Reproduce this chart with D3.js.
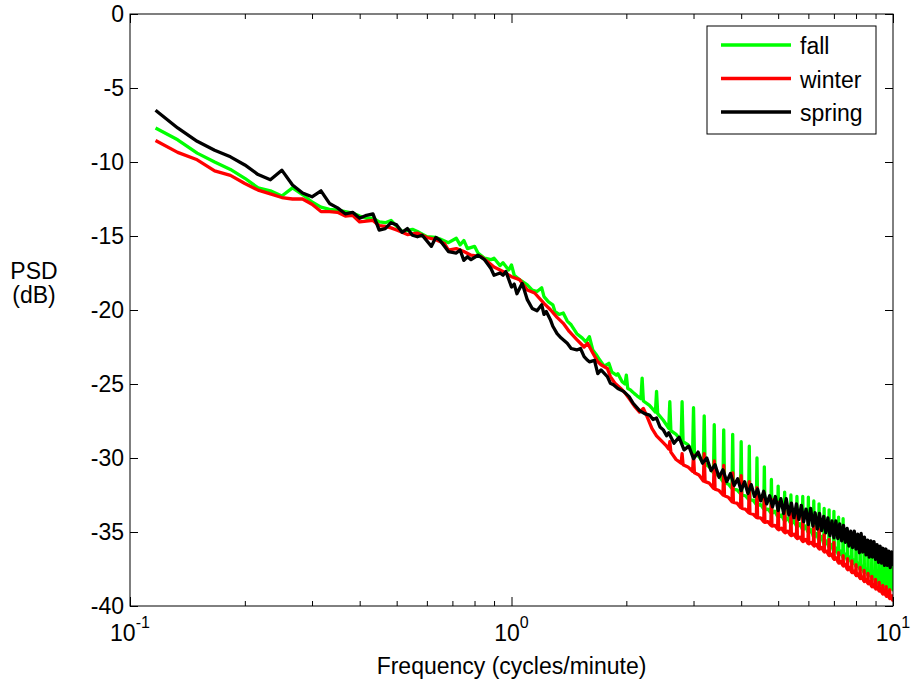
<!DOCTYPE html>
<html>
<head>
<meta charset="utf-8">
<script src="https://d3js.org/d3.v7.min.js"></script>
<style>
    body { margin: 0; background: #fff; }
    svg text { font-family: "Liberation Sans", Arial, Helvetica, sans-serif; }
</style>
</head>
<body>
<script>
//PSD readings, [frequency in cycles/hour, PSD in dB]  (cycles/minute = cycles/hour / 60)
var fall = [
    [7,-7.7],[8,-8.5],[9,-9.4],[10,-10.0],[11,-10.5],[12,-11.1],[13,-11.75],[14,-11.95],[15,-12.3],[16,-11.75],
    [17,-12.2],[18,-12.7],[19,-13.05],[20,-13.2],[21,-13.25],[22,-13.35],[23,-13.45],[24,-13.65],[25,-13.8],[26,-13.8],
    [27,-14.05],[28,-14.1],[29,-13.95],[30,-14.35],[31,-14.7],[33,-14.55],[34,-14.7],[36,-15.05],[38,-15.1],[39,-15.2],
    [41,-15.45],[43,-15.15],[44,-15.6],[45,-15.3],[46,-15.85],[48,-15.7],[49,-16.15],[51,-16.5],[53,-16.6],[54,-16.5],
    [56,-17.0],[57,-16.8],[59,-17.3],[60,-16.95],[61,-17.65],[63,-17.95],[66,-18.3],[68,-18.65],[70,-18.75],[72,-18.5],
    [73,-19.1],[75,-19.45],[77,-19.65],[78,-20.1],[80,-20.3],[82,-20.2],[84,-20.75],[86,-21.0],[89,-21.6],[92,-21.9],
    [94,-22.15],[96,-21.8],[98,-22.7],[100,-23.0],[102,-23.35],[105,-23.8],[108,-23.6],[110,-24.2],[113,-24.4],[114,-24.3],
    [117,-24.85],[119,-25.0],[120,-24.4],[121,-25.3],[123,-25.4],[126,-25.65],[128,-25.8],
    [131,-26.0],[132,-24.6],[133,-26.15],[138,-26.45],
    [143,-26.9],[144,-25.5],[145,-27.0],[150,-27.45],
    [155,-28.0],[156,-26.2],[157,-28.15],[162,-28.4],
    [167,-28.8],[168,-26.2],[169,-28.9],[174,-29.1],
    [179,-29.6],[180,-26.6],[181,-29.7],[186,-29.9],
    [191,-30.35],[192,-27.15],[193,-30.4],[198,-30.6],
    [203,-31.0],[204,-27.75],[205,-31.1],[210,-31.2],
    [215,-31.6],[216,-28.1],[217,-31.7],[222,-31.75],
    [227,-32.05],[228,-28.4],[229,-32.1],[234,-32.15],
    [239,-32.4],[240,-28.9],[241,-32.5],[246,-32.55],
    [251,-32.8],[252,-29.2],[253,-32.85],[258,-32.85],
    [263,-33.15],[264,-30.0],[265,-33.2],[270,-33.15],
    [275,-33.45],[276,-30.6],[277,-33.5],[282,-33.45],
    [287,-33.7],[288,-31.45],[289,-33.75],[294,-33.6],
    [299,-33.95],[300,-31.9],[301,-34.0],[306,-33.85],
    [311,-34.2],[312,-32.3],[313,-34.25],[318,-34.05],
    [323,-34.4],[324,-32.5],[325,-34.45],[330,-34.25],
    [335,-34.6],[336,-32.6],[337,-34.65],[342,-34.45],
    [347,-34.8],[348,-32.6],[349,-34.85],[354,-34.6],
    [359,-35.0],[360,-32.65],[361,-35.05],[366,-34.85],
    [371,-35.3],[372,-32.9],[373,-35.35],[378,-35.1],
    [383,-35.5],[384,-33.1],[385,-35.55],[390,-35.3],
    [395,-35.8],[396,-33.4],[397,-35.85],[402,-35.6],
    [407,-36.0],[408,-33.5],[409,-36.05],[414,-35.85],
    [419,-36.3],[420,-33.6],[421,-36.35],[426,-36.1],
    [431,-36.5],[432,-34.0],[433,-36.55],[438,-36.3],
    [443,-36.7],[444,-34.1],[445,-36.75],[450,-36.5],
    [455,-36.9],[456,-35.2],[457,-36.95],[462,-36.7],
    [467,-37.1],[468,-35.4],[469,-37.15],[474,-36.9],
    [479,-37.3],[480,-35.6],[481,-37.35],[486,-37.1],
    [491,-37.5],[492,-35.7],[493,-37.55],[498,-37.3],
    [503,-37.7],[504,-35.9],[505,-37.75],[510,-37.5],
    [515,-37.9],[516,-36.0],[517,-37.95],[522,-37.7],
    [527,-38.1],[528,-36.2],[529,-38.15],[534,-37.9],
    [539,-38.3],[540,-36.4],[541,-38.35],[546,-38.1],
    [551,-38.5],[552,-36.5],[553,-38.55],[558,-38.3],
    [563,-38.6],[564,-36.7],[565,-38.65],[570,-38.4],
    [575,-38.7],[576,-36.9],[577,-38.75],[582,-38.5],
    [587,-38.8],[588,-37.0],[589,-38.85],[594,-38.6],
    [599,-38.9],[600,-37.3]
];

var winter = [
    [7,-8.55],[8,-9.35],[9,-9.85],[10,-10.6],[11,-10.9],[12,-11.45],[13,-11.9],[14,-12.15],[15,-12.4],[16,-12.5],
    [17,-12.5],[18,-12.85],[19,-13.35],[20,-13.35],[21,-13.4],[22,-13.65],[23,-13.6],[24,-14.05],[25,-14.0],[26,-13.95],
    [27,-14.3],[28,-14.35],[29,-14.45],[30,-14.6],[32,-14.9],[34,-14.8],[36,-15.1],[38,-15.25],[40,-15.5],[41,-15.95],
    [43,-15.85],[45,-16.05],[47,-16.3],[50,-16.4],[52,-16.75],[54,-17.1],[57,-17.4],[60,-17.75],[63,-17.95],[66,-18.65],
    [69,-18.85],[73,-19.55],[76,-20.0],[79,-20.5],[82,-20.9],[85,-21.45],[89,-22.0],[93,-22.5],[95,-22.25],[98,-22.9],
    [101,-23.5],[103,-23.7],[107,-23.95],[109,-24.5],[112,-24.95],[116,-25.3],[119,-25.6],[123,-26.1],[126,-26.5],[130,-26.9],
    [133,-26.65],[136,-27.2],[140,-28.0],[144,-28.5],[149,-28.9],[153,-29.2],
    [155,-29.4],[156,-28.9],[157,-29.6],[162,-30.1],
    [167,-30.35],[168,-29.7],[169,-30.45],[174,-30.6],
    [179,-30.9],[180,-29.8],[181,-31.0],[186,-31.15],
    [191,-31.55],[192,-29.7],[193,-31.6],[198,-31.7],
    [203,-32.05],[204,-30.2],[205,-32.1],[210,-32.2],
    [215,-32.5],[216,-30.5],[217,-32.55],[222,-32.65],
    [227,-32.95],[228,-31.0],[229,-33.0],[234,-33.05],
    [239,-33.35],[240,-31.2],[241,-33.4],[246,-33.45],
    [251,-33.7],[252,-31.6],[253,-33.75],[258,-33.8],
    [263,-34.0],[264,-32.0],[265,-34.05],[270,-34.05],
    [275,-34.3],[276,-32.4],[277,-34.35],[282,-34.3],
    [287,-34.55],[288,-32.8],[289,-34.6],[294,-34.55],
    [299,-34.8],[300,-33.0],[301,-34.85],[306,-34.75],
    [311,-35.0],[312,-33.2],[313,-35.05],[318,-34.95],
    [323,-35.2],[324,-33.6],[325,-35.25],[330,-35.15],
    [335,-35.4],[336,-33.8],[337,-35.45],[342,-35.35],
    [347,-35.6],[348,-34.0],[349,-35.65],[354,-35.5],
    [359,-35.75],[360,-34.3],[361,-35.8],[366,-35.7],
    [371,-35.9],[372,-34.6],[373,-35.95],[378,-35.85],
    [383,-36.1],[384,-34.8],[385,-36.15],[390,-36.05],
    [395,-36.3],[396,-35.2],[397,-36.35],[402,-36.3],
    [407,-36.55],[408,-35.5],[409,-36.6],[414,-36.5],
    [419,-36.8],[420,-35.7],[421,-36.85],[426,-36.75],
    [431,-37.05],[432,-36.4],[433,-37.1],[438,-37.0],
    [443,-37.25],[444,-36.6],[445,-37.3],[450,-37.2],
    [455,-37.5],[456,-36.8],[457,-37.55],[462,-37.4],
    [467,-37.7],[468,-36.95],[469,-37.75],[474,-37.65],
    [479,-37.9],[480,-37.2],[481,-37.95],[486,-37.85],
    [491,-38.1],[492,-37.4],[493,-38.15],[498,-38.05],
    [503,-38.3],[504,-37.6],[505,-38.35],[510,-38.25],
    [515,-38.45],[516,-37.8],[517,-38.5],[522,-38.4],
    [527,-38.65],[528,-38.0],[529,-38.7],[534,-38.6],
    [539,-38.8],[540,-38.2],[541,-38.85],[546,-38.75],
    [551,-38.95],[552,-38.4],[553,-39.0],[558,-38.95],
    [563,-39.15],[564,-38.6],[565,-39.2],[570,-39.1],
    [575,-39.3],[576,-38.7],[577,-39.35],[582,-39.3],
    [587,-39.45],[588,-38.9],[589,-39.5],[594,-39.45],
    [599,-39.6],[600,-39.2]
];

var spring = [
    [7,-6.5],[8,-7.7],[9,-8.6],[10,-9.2],[11,-9.65],[12,-10.2],[13,-10.85],[14,-11.2],[15,-10.55],[16,-11.55],
    [17,-12.1],[18,-12.35],[19,-11.95],[20,-12.8],[21,-13.1],[22,-13.5],[23,-13.4],[24,-13.8],[25,-13.6],[26,-13.5],
    [27,-14.6],[28,-14.5],[29,-14.1],[30,-14.25],[31,-14.75],[32,-14.5],[33,-14.95],[34,-15.05],[35,-14.95],[37,-15.7],
    [38,-15.1],[39,-15.3],[41,-16.05],[43,-16.15],[44,-15.95],[45,-16.65],[46,-16.4],[47,-16.6],[49,-16.3],[51,-16.6],
    [53,-17.2],[54,-17.65],[56,-17.5],[57,-17.65],[58,-17.4],[60,-18.45],[61,-18.25],[62,-18.9],[64,-18.2],[66,-19.3],
    [68,-19.9],[70,-20.05],[72,-19.65],[73,-20.3],[74,-20.1],[76,-20.7],[77,-21.1],[79,-21.6],[81,-21.9],[84,-22.25],
    [86,-22.6],[89,-22.7],[91,-22.6],[93,-23.15],[95,-23.4],[96,-23.5],[99,-23.4],[101,-24.3],[103,-24.05],[107,-24.5],
    [109,-24.95],[111,-25.05],[114,-25.3],[118,-25.5],[122,-25.85],[125,-26.3],[130,-26.8],[134,-27.0],[138,-27.1],[141,-27.4],
    [144,-27.3],[147,-27.9],[150,-28.1],[153,-28.5],
    [155,-28.3],[160,-29.0],[165,-28.6],[170,-29.45],[175,-29.2],[180,-30.05],[185,-29.6],[190,-30.35],[195,-30.0],[200,-30.85],
    [205,-30.45],[210,-31.3],[215,-30.8],[220,-31.6],[225,-31.05],[230,-31.85],[235,-31.4],[240,-32.2],[245,-31.6],[250,-32.4],
    [255,-31.8],[260,-32.6],[265,-32.1],[270,-32.9],[275,-32.25],[280,-33.1],[285,-32.55],[290,-33.3],[295,-32.6],[300,-33.55],
    [305,-32.75],[310,-33.75],[315,-32.75],[320,-33.85],[325,-33.05],[330,-34.05],[335,-33.1],[340,-34.15],[345,-33.2],[350,-34.3],
    [355,-33.45],[360,-34.5],[365,-33.4],[370,-34.6],[375,-33.7],[380,-34.8],[385,-33.75],[390,-34.9],[395,-33.95],[400,-35.05],
    [405,-34.05],[410,-35.25],[415,-34.25],[420,-35.4],[425,-34.25],[430,-35.45],[435,-34.45],[440,-35.6],[445,-34.55],[450,-35.7],
    [455,-34.75],[460,-35.95],[465,-34.95],[470,-36.05],[475,-34.95],[480,-36.15],[485,-35.15],[490,-36.4],[495,-35.1],[500,-36.35],
    [505,-35.35],[510,-36.55],[515,-35.55],[520,-36.7],[525,-35.6],[530,-36.7],[535,-35.65],[540,-36.85],[545,-35.85],[550,-37.05],
    [555,-35.95],[560,-37.1],[565,-36.1],[570,-37.25],[575,-36.15],[580,-37.25],[585,-36.3],[590,-37.4],[595,-36.35],[600,-37.3]
];

//series names and colours, in plot order
var seriesNames = ['fall', 'winter', 'spring'];
var seriesColors = ['#00ff00', '#ff0000', '#000000'];

//axis ticks
var xMajorTicks = [0.1, 1, 10];
var xMinorTicks = [0.2, 0.3, 0.4, 0.5, 0.6, 0.7, 0.8, 0.9, 2, 3, 4, 5, 6, 7, 8, 9];
var yTicks = [-40, -35, -30, -25, -20, -15, -10, -5, 0];

window.onload = setChart;

function setChart(){

    var width = 911,
        height = 683;

    //plot frame
    var left = 130, right = 893, top = 14, bottom = 606;

    var svg = d3.select('body')
        .append('svg')
        .attr('width', width)
        .attr('height', height);

    var x = d3.scaleLog()
        .domain([0.1, 10])
        .range([left, right]);

    var y = d3.scaleLinear()
        .domain([-40, 0])
        .range([bottom, top]);

    svg.append('clipPath')
        .attr('id', 'plotClip')
        .append('rect')
        .attr('x', left)
        .attr('y', top)
        .attr('width', right - left)
        .attr('height', bottom - top);

    //lines
    var line = d3.line()
        .x(function(d){ return x(d[0] / 60); })
        .y(function(d){ return y(d[1]); });

    var allSeries = [fall, winter, spring];

    svg.append('g')
        .attr('clip-path', 'url(#plotClip)')
        .selectAll('.psd')
        .data(allSeries)
        .enter()
        .append('path')
        .attr('class', 'psd')
        .attr('d', line)
        .attr('fill', 'none')
        .attr('stroke', function(d, i){ return seriesColors[i]; })
        .attr('stroke-width', 3.3)
        .attr('stroke-linejoin', 'round');

    //axes with inward ticks, on all four sides
    function noDomain(g){ g.select('.domain').remove(); }

    svg.append('g')
        .attr('transform', 'translate(0,' + bottom + ')')
        .call(d3.axisBottom(x).tickValues(xMajorTicks).tickSizeInner(-9).tickSizeOuter(0).tickFormat(''))
        .call(noDomain);
    svg.append('g')
        .attr('transform', 'translate(0,' + bottom + ')')
        .call(d3.axisBottom(x).tickValues(xMinorTicks).tickSizeInner(-5).tickSizeOuter(0).tickFormat(''))
        .call(noDomain);
    svg.append('g')
        .attr('transform', 'translate(0,' + top + ')')
        .call(d3.axisTop(x).tickValues(xMajorTicks).tickSizeInner(-9).tickSizeOuter(0).tickFormat(''))
        .call(noDomain);
    svg.append('g')
        .attr('transform', 'translate(0,' + top + ')')
        .call(d3.axisTop(x).tickValues(xMinorTicks).tickSizeInner(-5).tickSizeOuter(0).tickFormat(''))
        .call(noDomain);

    var yAxis = svg.append('g')
        .attr('transform', 'translate(' + left + ',0)')
        .call(d3.axisLeft(y).tickValues(yTicks).tickSizeInner(-8).tickSizeOuter(0).tickPadding(6)
            .tickFormat(function(d){ return String(d); }))
        .call(noDomain);
    yAxis.selectAll('text')
        .attr('font-size', '23px')
        .attr('fill', '#000')
        .style('font-family', '"Liberation Sans", Arial, sans-serif');

    svg.append('g')
        .attr('transform', 'translate(' + right + ',0)')
        .call(d3.axisRight(y).tickValues(yTicks).tickSizeInner(-8).tickSizeOuter(0).tickFormat(''))
        .call(noDomain);

    //frame
    svg.append('rect')
        .attr('x', left)
        .attr('y', top)
        .attr('width', right - left)
        .attr('height', bottom - top)
        .attr('fill', 'none')
        .attr('stroke', '#000')
        .attr('stroke-width', 1);

    //x tick labels as powers of ten
    var xLabels = svg.selectAll('.xlab')
        .data(xMajorTicks)
        .enter()
        .append('text')
        .attr('class', 'xlab')
        .attr('x', function(d){ return x(d); })
        .attr('y', 641)
        .attr('text-anchor', 'middle')
        .attr('font-size', '23px');
    xLabels.append('tspan').text('10');
    xLabels.append('tspan')
        .attr('dy', -13)
        .attr('font-size', '16px')
        .text(function(d){ return String(Math.round(Math.log10(d))); });

    //axis titles
    svg.append('text')
        .attr('x', (left + right) / 2)
        .attr('y', 674)
        .attr('text-anchor', 'middle')
        .attr('font-size', '23px')
        .text('Frequency (cycles/minute)');

    svg.append('text')
        .attr('x', 34)
        .attr('y', 279)
        .attr('text-anchor', 'middle')
        .attr('font-size', '23px')
        .text('PSD');
    svg.append('text')
        .attr('x', 34)
        .attr('y', 303)
        .attr('text-anchor', 'middle')
        .attr('font-size', '23px')
        .text('(dB)');

    //legend
    var legend = svg.append('g');
    legend.append('rect')
        .attr('x', 707)
        .attr('y', 26)
        .attr('width', 169)
        .attr('height', 108)
        .attr('fill', '#fff')
        .attr('stroke', '#000')
        .attr('stroke-width', 1);

    var rows = legend.selectAll('.row')
        .data(seriesNames)
        .enter()
        .append('g')
        .attr('class', 'row')
        .attr('transform', function(d, i){ return 'translate(0,' + (45 + i * 33.5) + ')'; });
    rows.append('line')
        .attr('x1', 721)
        .attr('x2', 791)
        .attr('stroke', function(d, i){ return seriesColors[i]; })
        .attr('stroke-width', 3.3);
    rows.append('text')
        .attr('x', 800)
        .attr('y', 9)
        .attr('font-size', '23px')
        .text(function(d){ return d; });
}
</script>
</body>
</html>
